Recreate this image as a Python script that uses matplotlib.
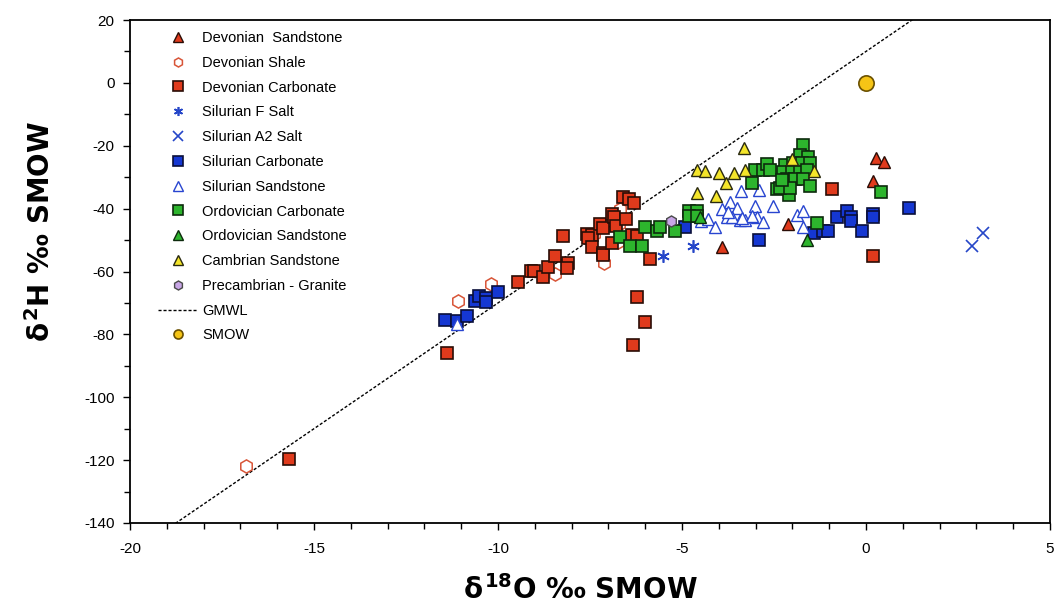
import matplotlib
matplotlib.use("Agg")
import matplotlib.pyplot as plt
import numpy as np
from matplotlib.ticker import MultipleLocator

plt.rcParams['font.family'] = ['Liberation Sans', 'DejaVu Sans']
plt.rcParams['axes.unicode_minus'] = False
plt.rcParams['mathtext.fontset'] = 'custom'
plt.rcParams['mathtext.rm'] = 'DejaVu Sans:bold'
plt.rcParams['mathtext.it'] = 'DejaVu Sans:bold'
plt.rcParams['mathtext.bf'] = 'DejaVu Sans:bold'

# ---- isotope data (delta 18O, delta 2H; permil vs SMOW) ----
dev_sand_x = [0.27, 0.49, 0.19, -2.12, -3.91]
dev_sand_y = [-23.9, -25.2, -31.2, -44.9, -52.2]

dev_shale_x = [-16.85, -11.09, -10.19, -8.45, -7.12, -6.68, -6.74, -6.70, -7.40]
dev_shale_y = [-121.9, -69.4, -64.0, -60.8, -57.3, -40.1, -50.6, -45.0, -48.2]

dev_carb_x = [-15.68, -11.39, -9.46, -9.10, -9.02, -8.78, -8.64, -8.45, -8.23,
              -8.10, -8.13, -7.58, -7.45, -7.55, -7.45, -7.23, -7.15, -7.15,
              -7.15, -6.90, -6.90, -6.85, -6.79, -6.52, -6.60, -6.44, -6.30,
              -6.36, -6.22, -5.87, -6.22, -6.01, -6.33, -0.92, 0.19]
dev_carb_y = [-119.6, -86.0, -63.3, -59.8, -59.8, -61.7, -58.6, -55.1, -48.7,
              -57.3, -58.9, -48.1, -48.4, -49.3, -52.2, -44.9, -46.2, -54.1,
              -54.7, -50.9, -41.7, -42.7, -45.5, -43.3, -36.3, -36.9, -38.2,
              -48.4, -48.7, -56.0, -68.1, -76.1, -83.4, -33.8, -55.1]

sil_f_salt_x = [-4.70, -5.52]
sil_f_salt_y = [-51.9, -55.1]

sil_a2_salt_x = [2.88, 3.18]
sil_a2_salt_y = [-51.9, -47.7]

sil_carb_x = [-11.44, -11.11, -10.84, -10.62, -10.52, -10.33, -10.33, -10.00,
              -4.92, -2.91, -1.41, -1.17, -1.03, -0.79, -0.52, -0.41, -0.41,
              -0.11, 0.19, 0.19, 1.17]
sil_carb_y = [-75.4, -75.7, -74.1, -69.4, -67.8, -68.4, -69.6, -66.5,
              -45.8, -50.0, -47.7, -47.1, -47.1, -42.7, -40.8, -42.7, -43.9,
              -47.1, -41.7, -42.7, -39.8]

sil_sand_x = [-3.40, -2.91, -3.70, -3.91, -2.53, -3.02, -3.51, -3.78, -3.42,
              -2.96, -2.80, -4.48, -4.29, -4.10, -1.87, -1.71, -1.71, -3.64,
              -3.29, -3.10, -3.75, -3.37, -11.11]
sil_sand_y = [-34.4, -34.1, -37.9, -40.1, -39.2, -39.2, -39.8, -42.7, -43.6,
              -42.7, -44.2, -43.9, -43.3, -45.8, -42.0, -40.8, -45.8, -42.7,
              -43.6, -42.3, -41.1, -43.0, -76.7]

ord_carb_x = [-6.68, -6.41, -6.09, -6.01, -5.68, -5.60, -5.19, -4.81, -4.59,
              -4.81, -4.59, -3.10, -3.02, -2.80, -2.69, -2.61, -2.42, -2.09,
              -1.71, -1.79, -1.58, -2.20, -1.98, -1.74, -1.52, -2.26, -2.01,
              -1.79, -1.60, -2.15, -1.93, -1.71, -2.34, -2.07, -1.52, -1.33,
              0.41, -2.28]
ord_carb_y = [-49.0, -51.9, -51.9, -45.8, -47.1, -45.8, -47.1, -40.8, -40.8,
              -42.3, -42.3, -31.8, -27.7, -27.7, -25.8, -27.7, -33.8, -35.7,
              -19.8, -22.9, -23.6, -26.1, -25.5, -25.5, -25.5, -28.3, -28.3,
              -28.3, -27.7, -30.6, -30.6, -30.6, -33.4, -33.4, -32.8, -44.6,
              -34.7, -30.9]

ord_sand_x = [-1.60, -4.51]
ord_sand_y = [-50.0, -42.7]

camb_sand_x = [-3.32, -4.59, -4.38, -3.99, -3.59, -3.29, -3.80, -4.59, -4.08,
               -2.01, -1.41]
camb_sand_y = [-20.7, -27.7, -28.0, -28.7, -28.7, -27.7, -31.8, -35.0, -36.0,
               -24.2, -28.0]

precamb_x = [-5.30]
precamb_y = [-43.9]

smow_x = [0.0]
smow_y = [0.0]

# Global Meteoric Water Line: d2H = 8 * d18O + 10
gmwl_slope = 8.0
gmwl_intercept = 10.0

fig = plt.figure(figsize=(10.55, 6.12), dpi=100)
ax = fig.add_axes([130 / 1055, 1 - 523 / 612, 920 / 1055, 503 / 612])

gx = np.array([-20.0, 5.0])
gmwl_handle, = ax.plot(gx, gmwl_slope * gx + gmwl_intercept, color='black',
                       lw=1.0, ls=(0, (2.2, 1.4)), label='GMWL', zorder=1)

ms = 8
dark = '#2a0d06'
series = [
    (dev_sand_x, dev_sand_y, dict(marker='^', mfc='#E03A1C', mec=dark, mew=1.0, ms=ms), 'Devonian  Sandstone'),
    (dev_shale_x, dev_shale_y, dict(marker='h', mfc='none', mec='#D85538', mew=1.1, ms=9.5), 'Devonian Shale'),
    (dev_carb_x, dev_carb_y, dict(marker='s', mfc='#E03A1C', mec=dark, mew=1.2, ms=ms), 'Devonian Carbonate'),
    (sil_f_salt_x, sil_f_salt_y, dict(marker=(6, 2, 0), mfc='#2546C8', mec='#2546C8', mew=1.2, ms=9), 'Silurian F Salt'),
    (sil_a2_salt_x, sil_a2_salt_y, dict(marker='x', mfc='#2546C8', mec='#2546C8', mew=1.2, ms=ms), 'Silurian A2 Salt'),
    (sil_carb_x, sil_carb_y, dict(marker='s', mfc='#1537D2', mec='#0a0f3a', mew=1.2, ms=ms), 'Silurian Carbonate'),
    (sil_sand_x, sil_sand_y, dict(marker='^', mfc='white', mec='#2845D0', mew=1.0, ms=ms), 'Silurian Sandstone'),
    (ord_carb_x, ord_carb_y, dict(marker='s', mfc='#2DB52D', mec='#0d2a0d', mew=1.2, ms=ms), 'Ordovician Carbonate'),
    (ord_sand_x, ord_sand_y, dict(marker='^', mfc='#2DB52D', mec='#0d2a0d', mew=1.0, ms=ms), 'Ordovician Sandstone'),
    (camb_sand_x, camb_sand_y, dict(marker='^', mfc='#F4E52A', mec='#2a2a10', mew=1.0, ms=ms), 'Cambrian Sandstone'),
    (precamb_x, precamb_y, dict(marker='h', mfc='#C8A6E6', mec='#4a4a4a', mew=1.0, ms=ms), 'Precambrian - Granite'),
]

handles = []
for xs, ys, style, name in series:
    h, = ax.plot(xs, ys, ls='none', label=name, zorder=3, **style)
    handles.append(h)

h_smow, = ax.plot(smow_x, smow_y, ls='none', marker='o', ms=11, mfc='#F5C416',
                  mec='#6a5000', mew=1.2, label='SMOW', zorder=4)
handles += [gmwl_handle, h_smow]

ax.set_xlim(-20, 5)
ax.set_ylim(-140, 20)
ax.xaxis.set_major_locator(MultipleLocator(5))
ax.xaxis.set_minor_locator(MultipleLocator(1))
ax.yaxis.set_major_locator(MultipleLocator(20))
ax.yaxis.set_minor_locator(MultipleLocator(10))
ax.tick_params(which='both', direction='out', width=1.0, labelsize=11,
               colors='black')
ax.tick_params(which='major', length=5)
ax.tick_params(axis='x', which='major', pad=9)
ax.tick_params(axis='y', which='major', pad=6)
ax.tick_params(which='minor', length=4)
for sp in ax.spines.values():
    sp.set_linewidth(1.3)

label_font = dict(fontsize=20, fontweight='bold', family='DejaVu Sans')
ax.set_xlabel(r'$\delta^{18}$O ‰ SMOW', **label_font)
ax.set_ylabel(r'$\delta^{2}$H ‰ SMOW', **label_font)
ax.xaxis.set_label_coords(450 / 920, -52 / 503)
ax.yaxis.set_label_coords(-74 / 920, 291 / 503)

leg = ax.legend(handles=handles, loc='upper left',
                bbox_to_anchor=(28 / 920, 1 - 11 / 503), frameon=False,
                fontsize=10.5, numpoints=1, handlelength=2.75,
                handletextpad=0.3, labelspacing=0.74, borderpad=0,
                borderaxespad=0)
for h in leg.legend_handles:
    if h.get_marker() not in (None, 'None', ''):
        h.set_markersize(6.5)

fig.savefig('out.png', dpi=100)
